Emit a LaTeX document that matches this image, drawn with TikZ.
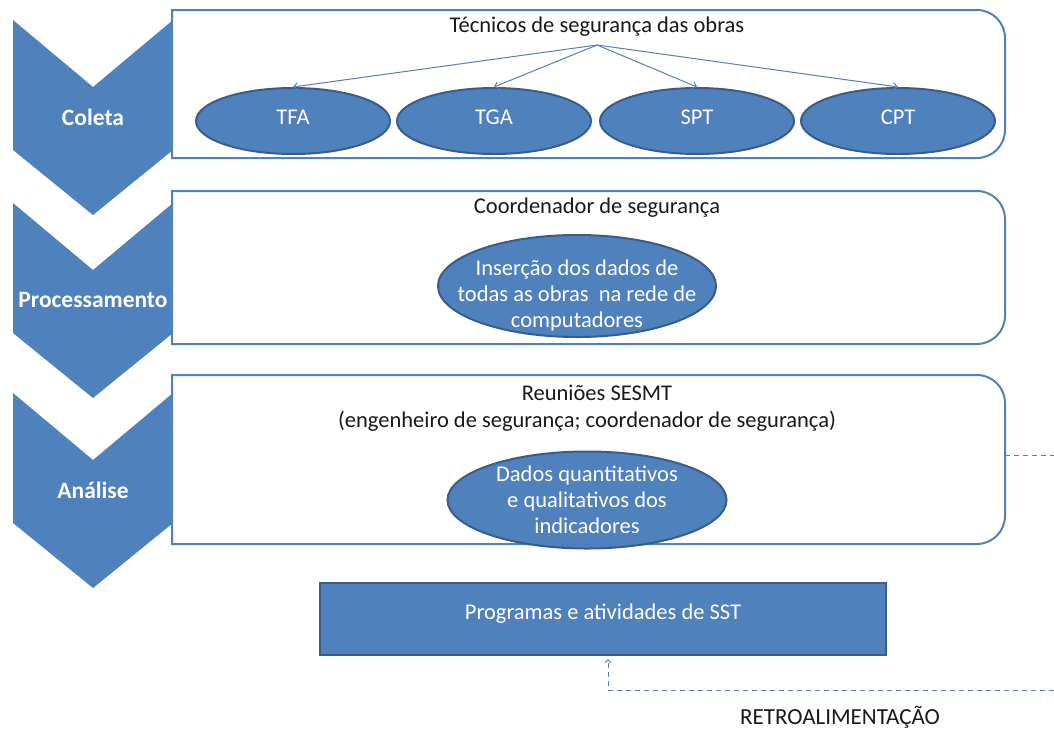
\documentclass[tikz,border=0pt]{standalone}
\usepackage{fontspec}
\setmainfont{Carlito}
\usetikzlibrary{arrows.meta,shapes.geometric}
\definecolor{officeblue}{HTML}{4F81BD}
\definecolor{darkblue}{HTML}{385D8A}

\begin{document}
\begin{tikzpicture}[x=1pt,y=-1pt,
  chevron/.style={fill=officeblue},
  stage/.style={text=white,font=\fontsize{23.5}{27}\selectfont\bfseries},
  panel/.style={draw=officeblue,line width=2pt,fill=white},
  head/.style={text=black!90,font=\fontsize{22.5}{26}\selectfont},
  blob/.style={ellipse,draw=darkblue,line width=2pt,fill=officeblue,text=white,
    inner sep=0pt,align=center,font=\fontsize{22.5}{26}\selectfont},
  blobtext/.style={text=white,align=center,font=\fontsize{22.5}{26}\selectfont},
  fan/.style={draw=officeblue,line width=1pt,-{Straight Barb[length=4pt,width=7pt]}},
  feedback/.style={draw=officeblue,line width=1pt,dash pattern=on 5pt off 4pt}]

\useasboundingbox (0,0) rectangle (1054,729);

% stages on the left
\foreach \t/\name/\lbl in {20/coleta/Coleta,203/proc/Processamento,393/anal/Análise} {
  \fill[chevron] (13,\t) -- (93,\t+67) -- (173,\t) -- (173,\t+130) -- (93,\t+195) -- (13,\t+130) -- cycle;
  \node[stage] (\name) at (93,\t+97) {\lbl};
}

% panels, round on the right side only
\foreach \t/\b in {10/158,191/344,375/544}
  \draw[panel] (172,\t) -- (977,\t) arc[start angle=-90,end angle=0,radius=28]
    -- (1005,\b-28) arc[start angle=0,end angle=90,radius=28] -- (172,\b) -- cycle;

% Coleta
\node[head] (tecnicos) at (597,27) {Técnicos de segurança das obras};
\coordinate (fanpt) at (597,45);
\node[blob,minimum width=194,minimum height=66,text height=15pt,text depth=8pt] (tfa) at (293,121) {TFA};
\node[blob,minimum width=194,minimum height=66,text height=15pt,text depth=8pt] (tga) at (494,121) {TGA};
\node[blob,minimum width=194,minimum height=66,text height=15pt,text depth=8pt] (spt) at (697,121) {SPT};
\node[blob,minimum width=194,minimum height=66,text height=15pt,text depth=8pt] (cpt) at (898,121) {CPT};
\foreach \n in {tfa,tga,spt,cpt}
  \draw[fan] (fanpt) -- (\n.north);

% Processamento
\node[head] (coord) at (597,208) {Coordenador de segurança};
\node[blob,minimum width=278,minimum height=102] (insercao) at (577,286) {};
\node[blobtext] (insercaotxt) at (577,295) {Inserção dos dados de\\todas as obras\ \ na rede de\\computadores};

% Analise
\node[head] (sesmt) at (597,393) {Reuniões SESMT};
\node[head] (membros) at (587,421) {(engenheiro de segurança; coordenador de segurança)};
\node[blob,minimum width=279,minimum height=97] (dados) at (587,500)
  {Dados quantitativos\\e qualitativos dos\\indicadores};

% programas
\node[draw=darkblue,line width=2pt,fill=officeblue,text=white,minimum width=566,
  minimum height=72,text height=15pt,text depth=15pt,font=\fontsize{22.5}{26}\selectfont] (prog) at (603,619) {Programas e atividades de SST};

% retroalimentacao
\coordinate (anaR) at (1005,455);
\coordinate (anaEnd) at (1054,455);
\draw[feedback] (anaR) -- (anaEnd);
\coordinate (fbR) at (1054,690);
\coordinate (fbL) at (608,690);
\draw[feedback,-{Straight Barb[length=3pt,width=6pt]},shorten >=3pt] (fbR) -- (fbL) -- (fbL |- prog.south);
\node[head,font=\fontsize{23}{26}\selectfont] (retro) at (840,717) {RETROALIMENTAÇÃO};
\end{tikzpicture}
\end{document}
